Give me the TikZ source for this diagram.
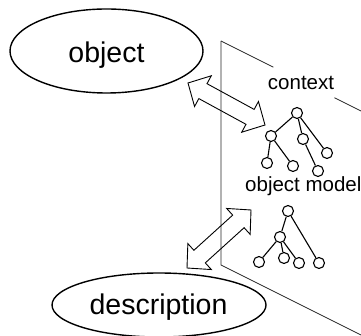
\documentclass[tikz,border=0pt]{standalone}
\usepackage{fontspec}
\setmainfont{Liberation Sans}
\usetikzlibrary{calc,shapes.geometric}

\tikzset{
  bubble/.style={ellipse, draw, line width=1.4pt, inner sep=0pt},
  bigtext/.style={font=\fontsize{28.5}{32}\selectfont, inner sep=0pt},
  smalltext/.style={font=\fontsize{20.5}{24}\selectfont, inner sep=0pt},
  panel/.style={line width=0.8pt, draw=black!85},
  treenode/.style={circle, draw, line width=1.1pt, minimum size=11pt, inner sep=0pt},
  treeedge/.style={line width=1.1pt},
  blockarrow/.style={draw, line width=0.9pt, line join=miter},
}

% Hollow double-headed block arrow between two named tip coordinates
\newcommand\blockarrow[2]{%
  \draw[blockarrow]
    (#1) -- ($(#1)!17pt!(#2)!17.5pt!90:(#2)$)
         -- ($(#1)!17pt!(#2)!8.5pt!90:(#2)$)
         -- ($(#2)!17pt!(#1)!8.5pt!-90:(#1)$)
         -- ($(#2)!17pt!(#1)!17.5pt!-90:(#1)$)
         -- (#2)
         -- ($(#2)!17pt!(#1)!17.5pt!90:(#1)$)
         -- ($(#2)!17pt!(#1)!8.5pt!90:(#1)$)
         -- ($(#1)!17pt!(#2)!8.5pt!-90:(#2)$)
         -- ($(#1)!17pt!(#2)!17.5pt!-90:(#2)$)
         -- cycle;}

\begin{document}
\begin{tikzpicture}[x=1pt, y=-1pt]
  \useasboundingbox (0,0) rectangle (361,336);

  % the context panel, seen in perspective
  \coordinate (ptl) at (221,41);
  \coordinate (pbl) at (221,265);
  \coordinate (ptr) at (361,111);
  \coordinate (pbr) at (361,335);
  \draw[panel] (ptl) -- (pbl) -- (pbr);
  \draw[panel] (ptl) -- ($(ptl)!0.374!(ptr)$);
  \draw[panel] ($(ptl)!0.81!(ptr)$) -- (ptr);

  % ellipses
  \node[bubble, minimum width=193pt, minimum height=84pt] (obj) at (106.5,51) {};
  \node[bigtext, anchor=base] (objtext) at (106.5,62.5) {object};
  \node[bubble, minimum width=214pt, minimum height=64pt] (desc) at (159,305) {};
  \node[bigtext, anchor=base] (desctext) at (158.5,315) {description};

  % labels on the panel
  \node[smalltext, anchor=base] (ctx) at (301,90) {context};
  \node[smalltext, anchor=base west] (om) at (245,192) {object model};

  % block arrows
  \coordinate (ua) at (188,83);
  \coordinate (ub) at (265,125);
  \coordinate (la) at (187,268);
  \coordinate (lb) at (251,210);
  \blockarrow{ua}{ub}
  \blockarrow{la}{lb}

  % upper tree
  \node[treenode] (r1)  at (297,113) {};
  \node[treenode] (a1)  at (271,136) {};
  \node[treenode] (b1)  at (303,139) {};
  \node[treenode] (c1)  at (327,153) {};
  \node[treenode] (a11) at (267,163) {};
  \node[treenode] (a12) at (293,166) {};
  \node[treenode] (b11) at (318,171) {};
  \draw[treeedge] (r1) -- (a1) (r1) -- (b1) (r1) -- (c1)
                  (a1) -- (a11) (a1) -- (a12) (b1) -- (b11);

  % lower tree
  \node[treenode] (r2)  at (288,211) {};
  \node[treenode] (a2)  at (280,237) {};
  \node[treenode] (l1)  at (259,262) {};
  \node[treenode] (l2)  at (284,258) {};
  \node[treenode] (l3)  at (299,263) {};
  \node[treenode] (l4)  at (319,263) {};
  \draw[treeedge] (r2) -- (a2) (r2) -- (l4)
                  (a2) -- (l1) (a2) -- (l2) (a2) -- (l3);
\end{tikzpicture}
\end{document}
